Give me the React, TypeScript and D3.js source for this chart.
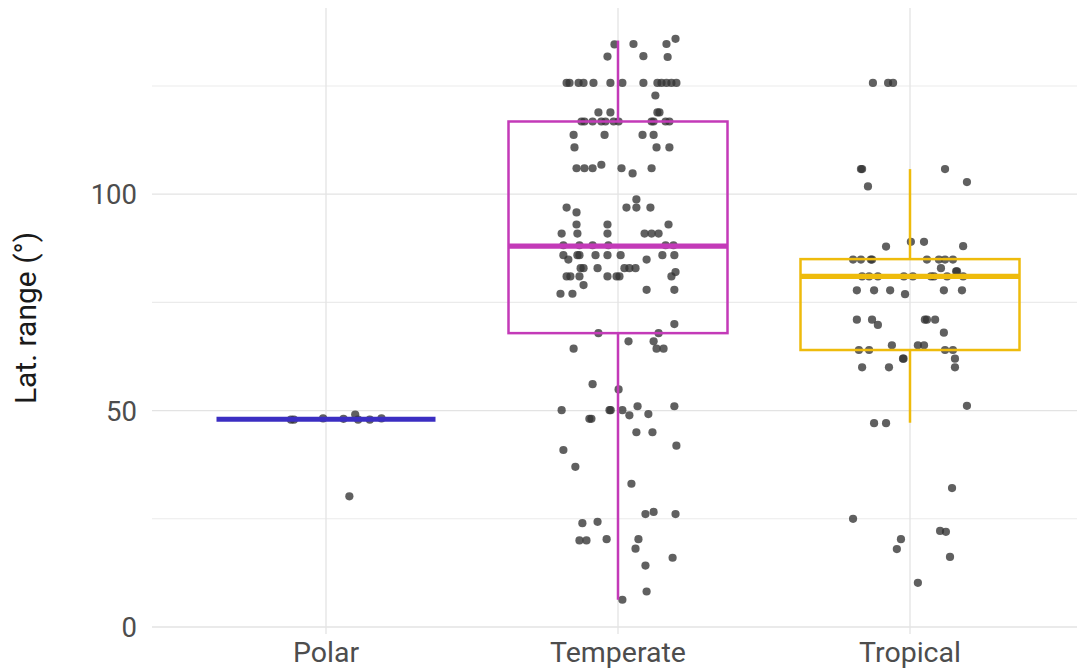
import React from "react";
import * as d3 from "d3";

const categories = ["Polar", "Temperate", "Tropical"];
const colors = ["#3B2EC2", "#C33AB8", "#EEBB0C"];

// values and horizontal jitter (fraction of category step)
const polarValues = [47.9, 47.9, 48.2, 48.1, 49.1, 47.9, 47.9, 48.2, 30.2];
const polarJitter = [-0.12, -0.11, -0.01, 0.06, 0.1, 0.11, 0.15, 0.19, 0.08];

const temperateValues = [
  134.6, 134.7, 134.7, 135.9, 131.8, 131.9, 131.7,
  125.7, 125.7, 125.7, 125.7, 125.7, 125.7, 125.7, 125.7, 125.7, 125.7, 125.7, 125.7, 125.7,
  122.8, 118.9, 118.9, 118.9, 118.9,
  116.8, 116.8, 116.8, 116.8, 116.8, 116.8, 116.8, 116.8, 116.8, 116.8, 116.8,
  113.7, 113.7, 113.7, 113.7, 110.8, 110.8, 110.8,
  106, 106, 106, 106, 106.8, 106, 104.8,
  98.8, 96.9, 96.9, 96.9, 96.9, 95.8, 93, 93, 93,
  90.9, 90.9, 90.9, 90.9, 90.9, 90.9,
  88.2, 88.2, 88.2, 88.2, 88.2, 88.2,
  85.9, 85.9, 85.9, 85.9, 85.9, 85.9, 85.9, 85.9, 84.9, 84.9,
  82.9, 82.9, 82.9, 82.9, 82.9, 82.9, 82,
  81, 81, 81, 81, 81, 81, 81, 79, 77, 77, 77.9, 77.9,
  70, 67.9, 67.9, 66, 66, 64.3, 64.3, 64.3,
  56.1, 54.9, 50.1, 50.1, 50.1, 50.1, 51, 51, 48.9, 49.2, 48.1, 48.1, 45, 45,
  40.9, 41.9, 37, 33.1, 26.1, 26.1, 26.6, 24, 24.3, 20, 20, 20.3, 20.3, 18.1, 16, 14.2, 8.2, 6.3,
];
const temperateJitter = [
  -0.012, 0.053, 0.166, 0.197, -0.036, 0.087, 0.17,
  -0.176, -0.166, -0.135, -0.118, -0.084, -0.026, 0.015, 0.087, 0.135, 0.149, 0.166, 0.183, 0.2,
  0.128, -0.067, -0.026, 0.135, 0.142,
  -0.125, -0.115, -0.087, -0.057, -0.043, -0.015, 0.002, 0.115, 0.122, 0.163, 0.176,
  -0.152, -0.046, 0.084, 0.122, -0.149, 0.132, 0.176,
  -0.142, -0.115, -0.087, 0.115, -0.057, 0.012, 0.05,
  0.063, 0.029, 0.063, 0.111, -0.176, -0.142, -0.142, -0.036, 0.173,
  -0.193, -0.139, -0.036, 0.091, 0.115, 0.139,
  -0.187, -0.132, -0.087, -0.033, 0.163, 0.19,
  -0.187, -0.139, -0.132, -0.077, -0.036, 0.009, 0.152, 0.193, -0.17, 0.098,
  -0.128, -0.118, -0.07, 0.022, 0.039, 0.06, 0.197,
  -0.176, -0.163, -0.132, -0.036, -0.005, 0.005, 0.183, -0.118, -0.197, -0.156, 0.098, 0.193,
  0.193, -0.067, 0.139, 0.036, 0.122, -0.152, 0.132, 0.156,
  -0.087, 0.002, -0.193, -0.029, -0.025, 0.015, 0.067, 0.193, 0.039, 0.104, -0.098, -0.091, 0.063, 0.118,
  -0.187, 0.2, -0.146, 0.046, 0.094, 0.197, 0.122, -0.122, -0.07, -0.132, -0.108, -0.039, 0.07, 0.06, 0.187, 0.094, 0.098, 0.015,
];

const tropicalValues = [
  125.7, 125.7, 125.7, 105.8, 105.8, 105.8, 101.8, 102.8,
  87.9, 89, 89, 88,
  84.9, 84.9, 84.9, 84.9, 84.9, 84.9, 84.9, 84.9, 82.9, 82.2, 82.2,
  81, 81, 81, 81, 81, 81, 81, 81, 81,
  77.8, 77.8, 77.8, 77.8, 77.8, 76.9,
  71, 71, 71, 71, 71, 69.8, 68, 65.1, 65.1, 65.1,
  64, 64, 64, 64, 62, 62, 62, 60, 60, 60,
  51.1, 47.1, 47.1, 32.1, 25, 20.3, 18, 22.2, 22, 16.2, 10.2,
];
const tropicalJitter = [
  -0.127, -0.075, -0.058, -0.168, -0.164, 0.12, -0.144, 0.195,
  -0.082, 0.003, 0.048, 0.182,
  -0.195, -0.168, -0.134, -0.13, 0.058, 0.099, 0.12, 0.147, 0.106, 0.158, 0.161,
  -0.164, -0.14, -0.11, -0.021, 0.01, 0.072, 0.082, 0.127, 0.182,
  -0.182, -0.123, -0.068, 0.116, 0.178, -0.017,
  -0.182, -0.13, 0.051, 0.058, 0.086, -0.11, 0.116, -0.062, 0.027, 0.048,
  -0.175, -0.14, 0.12, 0.147, -0.024, -0.022, 0.154, -0.164, -0.072, 0.154,
  0.195, -0.123, -0.082, 0.144, -0.195, -0.031, -0.045, 0.103, 0.123, 0.137, 0.027,
];

// box statistics: [lower whisker, Q1, median, Q3, upper whisker]
const polarBox = [48, 48, 48, 48, 48];
const temperateBox = [6.3, 67.9, 88, 116.8, 135.5];
const tropicalBox = [47.2, 64, 81, 85, 105.8];

const yMajorTicks = [0, 50, 100];
const yMinorTicks = [25, 75, 125];
const yTitle = "Lat. range (°)";

const W = 1077;
const H = 669;
const panel = { left: 152, right: 1085, top: 8, bottom: 634 };
const FONT = "Roboto, 'Noto Sans', sans-serif";

export default function App() {
  const x = d3.scalePoint<string>().domain(categories).range([326, 910]);
  const step = x.step();
  const y = d3.scaleLinear().domain([0, 125]).range([627, 86]);
  const boxW = step * 0.75;

  const groups = [
    { cat: categories[0], values: polarValues, jitter: polarJitter, box: polarBox, color: colors[0] },
    { cat: categories[1], values: temperateValues, jitter: temperateJitter, box: temperateBox, color: colors[1] },
    { cat: categories[2], values: tropicalValues, jitter: tropicalJitter, box: tropicalBox, color: colors[2] },
  ];

  return (
    <svg width={W} height={H} style={{ position: "absolute", left: 0, top: 0, background: "#fff" }} fontFamily={FONT}>
      <defs>
        <clipPath id="pclip">
          <rect x={panel.left} y={panel.top} width={panel.right - panel.left} height={panel.bottom - panel.top} />
        </clipPath>
      </defs>
      <g clipPath="url(#pclip)">
        {yMinorTicks.map((t) => (
          <line key={"mi" + t} x1={panel.left} x2={panel.right} y1={y(t)} y2={y(t)} stroke="#ebebeb" strokeWidth={1.1} />
        ))}
        {yMajorTicks.map((t) => (
          <line key={"ma" + t} x1={panel.left} x2={panel.right} y1={y(t)} y2={y(t)} stroke="#e3e3e3" strokeWidth={1.3} />
        ))}
        {categories.map((c) => (
          <line key={"vx" + c} x1={x(c)} x2={x(c)} y1={panel.top} y2={panel.bottom} stroke="#e3e3e3" strokeWidth={1.3} />
        ))}
        {groups.map((g) =>
          g.values.map((v, i) => (
            <circle
              key={g.cat + i}
              cx={(x(g.cat) as number) + g.jitter[i] * step}
              cy={y(v)}
              r={4.1}
              fill="#333333"
              fillOpacity={0.78}
            />
          ))
        )}
        {groups.map((g) => {
          const cx = x(g.cat) as number;
          const [lo, q1, med, q3, hi] = g.box;
          return (
            <g key={"box" + g.cat} stroke={g.color} fill="none">
              <line x1={cx} x2={cx} y1={y(q3)} y2={y(hi)} strokeWidth={2.5} />
              <line x1={cx} x2={cx} y1={y(q1)} y2={y(lo)} strokeWidth={2.5} />
              <rect x={cx - boxW / 2} y={y(q3)} width={boxW} height={y(q1) - y(q3)} strokeWidth={2.5} />
              <line x1={cx - boxW / 2} x2={cx + boxW / 2} y1={y(med)} y2={y(med)} strokeWidth={5.2} />
            </g>
          );
        })}
      </g>
      {yMajorTicks.map((t) => (
        <text key={"yl" + t} x={137} y={y(t)} dy="0.36em" textAnchor="end" fontSize={27.5} fill="#4d4d4d">
          {t}
        </text>
      ))}
      {categories.map((c) => (
        <text key={"xl" + c} x={x(c)} y={662} textAnchor="middle" fontSize={28.5} fill="#4d4d4d">
          {c}
        </text>
      ))}
      <text transform={`translate(36,${318}) rotate(-90)`} textAnchor="middle" fontSize={30} fill="#1a1a1a">
        {yTitle}
      </text>
    </svg>
  );
}
